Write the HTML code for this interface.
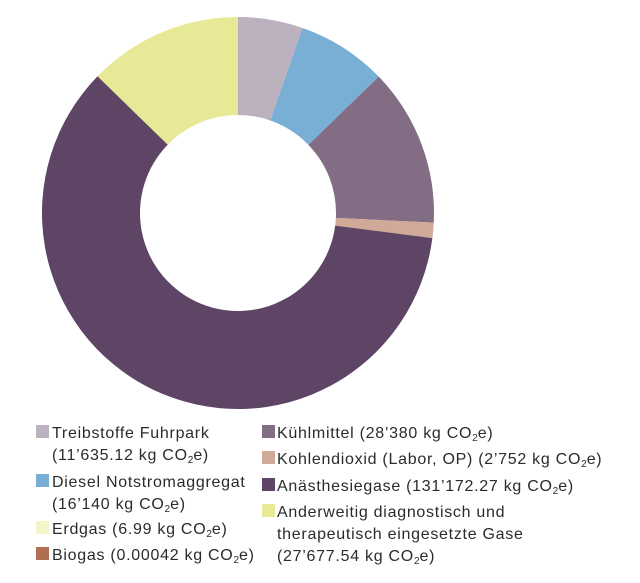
<!DOCTYPE html>
<html><head><meta charset="utf-8"><style>
body{margin:0;width:640px;height:583px;background:#fff;font-family:"Liberation Sans",sans-serif;color:#2b2b2b;font-size:16px;position:relative;overflow:hidden}
.t{position:absolute;white-space:nowrap;line-height:18px;letter-spacing:0.72px}
.s{position:absolute;width:13px;height:13px}
sub{font-size:10px;vertical-align:-3px;line-height:0;letter-spacing:0}
</style></head><body>
<svg width="640" height="420" style="position:absolute;left:0;top:0">
<path d="M238,17 A196,196 0 0 1 302.56,27.94 L270.28,120.47 A98,98 0 0 0 238,115 Z" fill="#bcb1bf"/>
<path d="M302.56,27.94 A196,196 0 0 1 378.79,76.64 L308.39,144.82 A98,98 0 0 0 270.28,120.47 Z" fill="#79afd5"/>
<path d="M378.79,76.64 A196,196 0 0 1 433.76,222.68 L335.88,217.84 A98,98 0 0 0 308.39,144.82 Z" fill="#836d85"/>
<path d="M433.76,222.68 A196,196 0 0 1 432.37,238.17 L335.19,225.58 A98,98 0 0 0 335.88,217.84 Z" fill="#d0a998"/>
<path d="M432.37,238.17 A196,196 0 1 1 97.55,76.29 L167.77,144.64 A98,98 0 1 0 335.19,225.58 Z" fill="#5e4565"/>
<path d="M97.55,76.29 A196,196 0 0 1 238,17 L238,115 A98,98 0 0 0 167.77,144.64 Z" fill="#e8e996"/>
</svg>
<div class="s" style="left:36px;top:425px;background:#bcb1bf"></div>
<div class="t" style="left:52px;top:425px">Treibstoffe Fuhrpark</div>
<div class="t" style="left:52px;top:447px">(11’635.12 kg CO<sub>2</sub>e)</div>
<div class="s" style="left:36px;top:474px;background:#79afd5"></div>
<div class="t" style="left:52px;top:474px">Diesel Notstromaggregat</div>
<div class="t" style="left:52px;top:496px">(16’140 kg CO<sub>2</sub>e)</div>
<div class="s" style="left:36px;top:521px;background:#f3f4c8"></div>
<div class="t" style="left:52px;top:521px">Erdgas (6.99 kg CO<sub>2</sub>e)</div>
<div class="s" style="left:36px;top:547px;background:#b06e52"></div>
<div class="t" style="left:52px;top:547px">Biogas (0.00042 kg CO<sub>2</sub>e)</div>
<div class="s" style="left:262px;top:425px;background:#836d85"></div>
<div class="t" style="left:277px;top:425px">Kühlmittel (28’380 kg CO<sub>2</sub>e)</div>
<div class="s" style="left:262px;top:451px;background:#d0a998"></div>
<div class="t" style="left:277px;top:451px">Kohlendioxid (Labor, OP) (2’752 kg CO<sub>2</sub>e)</div>
<div class="s" style="left:262px;top:478px;background:#5e4565"></div>
<div class="t" style="left:277px;top:478px">Anästhesiegase (131’172.27 kg CO<sub>2</sub>e)</div>
<div class="s" style="left:262px;top:504px;background:#e8e996"></div>
<div class="t" style="left:277px;top:504px">Anderweitig diagnostisch und</div>
<div class="t" style="left:277px;top:526px">therapeutisch eingesetzte Gase</div>
<div class="t" style="left:277px;top:548px">(27’677.54 kg CO<sub>2</sub>e)</div>
</body></html>
